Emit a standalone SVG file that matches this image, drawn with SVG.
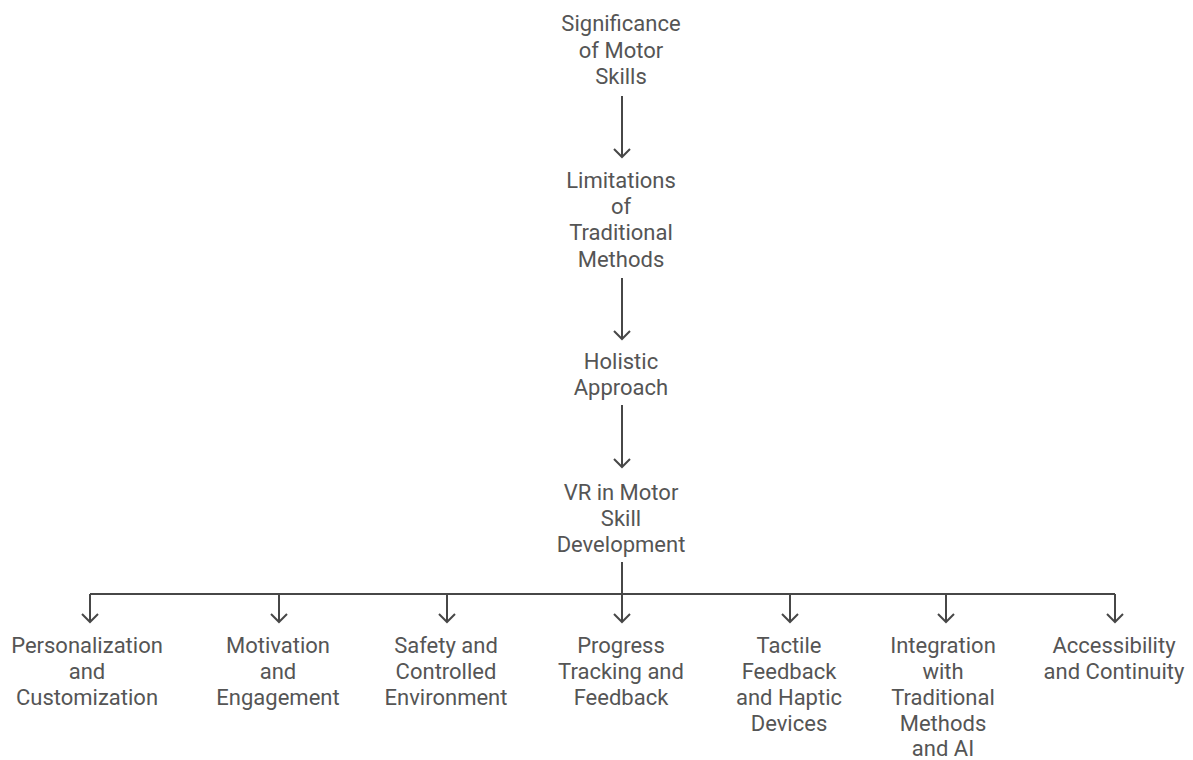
<svg xmlns="http://www.w3.org/2000/svg" width="1193" height="760" viewBox="0 0 1193 760">
  <style>
    text { font-family: Roboto, "Liberation Sans", sans-serif; font-size: 22px; fill: #555555; text-anchor: middle; }
    .edge { fill: none; stroke: #474747; stroke-width: 2; }
  </style>
  <defs>
    <marker id="arrow" viewBox="0 0 20 20" refX="10" refY="10" markerWidth="20" markerHeight="20" markerUnits="userSpaceOnUse" orient="auto">
      <path d="M2,2 L10,10 L2,18" fill="none" stroke="#474747" stroke-width="2"/>
    </marker>
  </defs>
  <rect width="1193" height="760" fill="#ffffff"/>

  <g id="connectors">
    <path class="edge" d="M622,96 V157" marker-end="url(#arrow)"/>
    <path class="edge" d="M622,278 V339" marker-end="url(#arrow)"/>
    <path class="edge" d="M622,405 V467" marker-end="url(#arrow)"/>
    <path class="edge" d="M622,562 V594"/>
    <path class="edge" d="M90,594 H1115"/>
    <path class="edge" d="M90,594 V622" marker-end="url(#arrow)"/>
    <path class="edge" d="M279,594 V622" marker-end="url(#arrow)"/>
    <path class="edge" d="M447,594 V622" marker-end="url(#arrow)"/>
    <path class="edge" d="M622,594 V622" marker-end="url(#arrow)"/>
    <path class="edge" d="M790,594 V622" marker-end="url(#arrow)"/>
    <path class="edge" d="M946,594 V622" marker-end="url(#arrow)"/>
    <path class="edge" d="M1115,594 V622" marker-end="url(#arrow)"/>
  </g>

  <g id="significance">
    <text x="621" y="31">Significance</text>
    <text x="621" y="57.5">of Motor</text>
    <text x="621" y="84">Skills</text>
  </g>
  <g id="limitations">
    <text x="621" y="188">Limitations</text>
    <text x="621" y="214">of</text>
    <text x="621" y="240">Traditional</text>
    <text x="621" y="267">Methods</text>
  </g>
  <g id="holistic">
    <text x="621" y="369">Holistic</text>
    <text x="621" y="395">Approach</text>
  </g>
  <g id="vr">
    <text x="621" y="500">VR in Motor</text>
    <text x="621" y="526">Skill</text>
    <text x="621" y="552">Development</text>
  </g>

  <g id="personalization">
    <text x="87" y="653">Personalization</text>
    <text x="87" y="679">and</text>
    <text x="87" y="705">Customization</text>
  </g>
  <g id="motivation">
    <text x="278" y="653">Motivation</text>
    <text x="278" y="679">and</text>
    <text x="278" y="705">Engagement</text>
  </g>
  <g id="safety">
    <text x="446" y="653">Safety and</text>
    <text x="446" y="679">Controlled</text>
    <text x="446" y="705">Environment</text>
  </g>
  <g id="progress">
    <text x="621" y="653">Progress</text>
    <text x="621" y="679">Tracking and</text>
    <text x="621" y="705">Feedback</text>
  </g>
  <g id="tactile">
    <text x="789" y="653">Tactile</text>
    <text x="789" y="679">Feedback</text>
    <text x="789" y="705">and Haptic</text>
    <text x="789" y="731">Devices</text>
  </g>
  <g id="integration">
    <text x="943" y="653">Integration</text>
    <text x="943" y="679">with</text>
    <text x="943" y="705">Traditional</text>
    <text x="943" y="731">Methods</text>
    <text x="943" y="756">and AI</text>
  </g>
  <g id="accessibility">
    <text x="1114" y="653">Accessibility</text>
    <text x="1114" y="679">and Continuity</text>
  </g>
</svg>
